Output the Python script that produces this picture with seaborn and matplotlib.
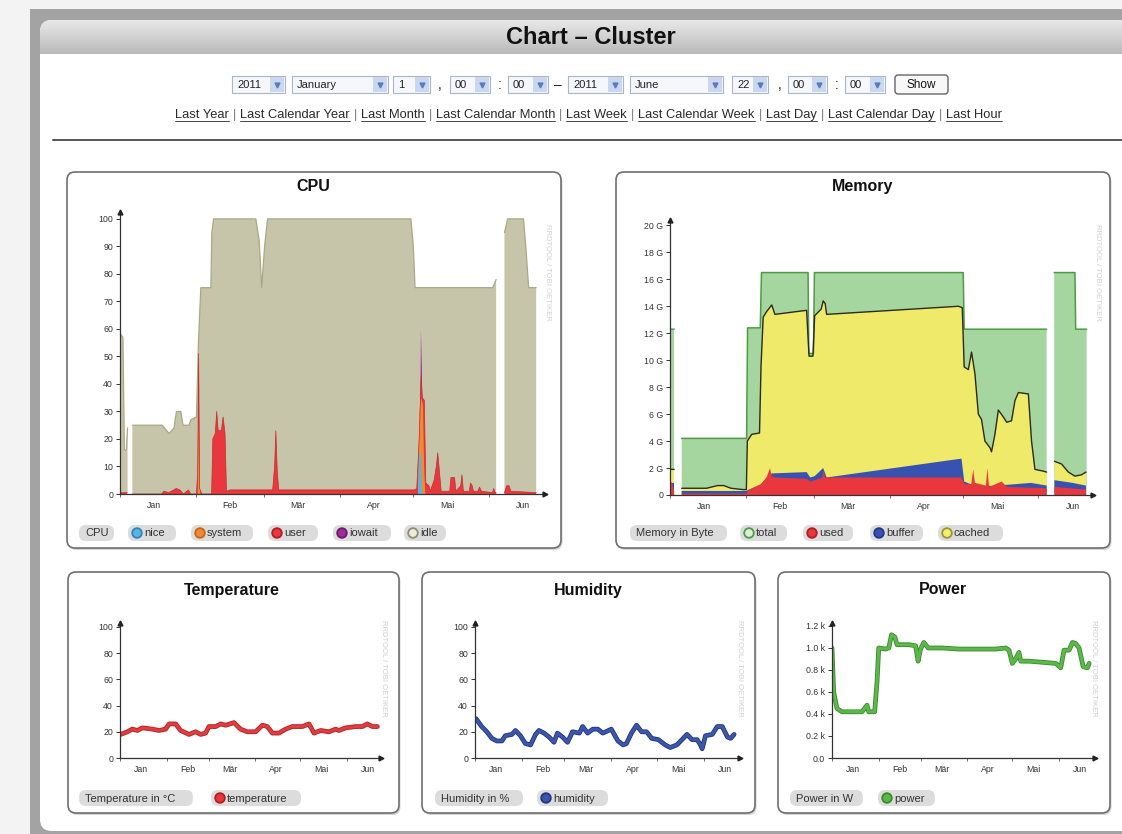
import numpy as np
import pandas as pd
import matplotlib
matplotlib.use("Agg")
import matplotlib.pyplot as plt
import matplotlib.patheffects as pe
import seaborn as sns
from matplotlib.patches import FancyBboxPatch, Rectangle, Circle
from matplotlib.colors import LinearSegmentedColormap

sns.set_theme(style="white")
plt.rcParams["font.family"] = ["Liberation Sans", "DejaVu Sans"]

nan = np.nan

# x axis: day of year 2011 (0 = 1 Jan)
month_labels = ["Jan", "Feb", "Mär", "Apr", "Mai", "Jun"]
month_mid_days = [14, 45, 73, 104, 134, 165]
month_start_days = [0, 31, 59, 90, 120, 151]

# ---- CPU (percent, visible top of each stacked layer) ----
cpu_total_days = [0.3, 1.2, 1.8, 2.6, 3.1, 3.5, 5.05, 17.3, 20.1, 22.1, 23.1, 24.9, 25.8, 28.3, 29.0, 31.3,
                  32.1, 33.1, 37.2, 37.6, 38.3, 55.6, 57.0, 58.0, 59.2, 60.4, 119.1, 120.1, 120.8, 152.6, 154.0,
                  154.5, 157.4, 158.7, 165.2, 166.3, 167.3, 170.4]
cpu_total = [58, 57, 16, 16, 24, nan, 25, 25, 22, 24, 30, 30, 25, 25, 27, 28,
             55, 75, 75, 95, 100, 100, 92, 75, 90, 100, 100, 90, 75, 75, 78,
             nan, 95, 100, 100, 88, 75, 75]

cpu_user_days = [0.3, 3.0, 3.5, 5.05, 17, 18, 20, 23, 24.5, 26, 28, 29, 31.3, 31.8, 32.2, 32.6, 33.5,
                 37.5, 38.0, 39.0, 39.6, 40.2, 41.5, 42.2, 43.0, 43.6, 45, 62.5, 63.3, 63.8, 64.4, 65,
                 120.5, 121.5, 122.5, 123.3, 123.8, 124.6, 125.2, 126.5, 127, 128.6, 129.5, 130.1, 130.8,
                 131.5, 135, 135.5, 137, 137.5, 139.5, 140, 140.6, 143, 143.5, 144.2, 144.7, 146.5, 147.2,
                 148, 152.5, 153, 153.6, 154, 154.5, 157.4, 158.3, 159.3, 160, 170.4]
cpu_user = [0.5, 0.5, nan, 0, 0, 1, 0.5, 2, 1.5, 0, 1.5, 0, 0, 8, 51, 2, 0,
            0, 20, 22, 30, 23, 23, 28, 22, 1, 1.5, 1.5, 10, 23, 8, 1.5,
            1.5, 2, 20, 43, 35, 34, 4, 3, 1, 5, 10, 15, 8,
            1, 1, 6, 6, 1, 3, 7, 1, 1, 4, 3, 1, 1, 2.5,
            1, 0.5, 2, 0.5, 0.5, nan, 0.5, 3, 3, 1, 0.5]

cpu_system_days = [31.6, 32.0, 32.3, 32.6, 121.8, 122.3, 123.0, 123.8, 124.3, 124.8]
cpu_system = [0, 25, 20, 0, 0, 30, 35, 33, 10, 0]

cpu_nice_days = [121.8, 122.3, 123.0, 123.5]
cpu_nice = [0, 15, 15, 0]

cpu_iowait_days = [122.5, 123.0, 123.4, 123.6]
cpu_iowait = [0, 60, 45, 0]

# ---- Memory (GB, visible top of each stacked layer) ----
mem_total_days = [0.0, 1.7, 2.2, 4.8, 31.4, 31.8, 37.0, 37.5, 56.6, 56.9, 58.8, 59.2, 120.2, 120.6,
                  154.4, 155.0, 157.5, 166.0, 166.3, 170.8]
mem_total = [12.3, 12.3, nan, 4.2, 4.2, 12.4, 12.4, 16.5, 16.5, 10.5, 10.5, 16.5, 16.5, 12.3,
             12.3, nan, 16.5, 16.5, 12.3, 12.3]

mem_cached_days = [0.0, 1.7, 2.2, 4.8, 15, 19.5, 22, 25, 30, 31.3, 31.7, 33.5, 36.7, 37.3, 38.2, 39.6,
                   41.7, 43.0, 56.0, 57.0, 58.6, 59.3, 62.0, 62.8, 63.6, 64.2, 118.2, 119.8, 120.6, 122.3,
                   123.6, 125.0, 126.4, 127.7, 129.1, 131.2, 131.8, 133.2, 134.6, 136.6, 138.0, 140.0,
                   141.4, 142.8, 146.9, 148.2, 149.6, 152.3, 154.4, 155.0, 157.6, 160.5, 163.3, 166.0,
                   168.7, 170.5]
mem_cached = [1.9, 1.9, nan, 0.5, 0.5, 0.7, 0.7, 0.5, 0.4, 0.4, 4.0, 4.5, 4.6, 9.5, 13.2, 13.6,
              14.1, 13.4, 13.7, 10.3, 10.3, 13.3, 13.8, 14.4, 14.2, 13.4, 14.0, 13.9, 9.5, 9.3,
              10.6, 9.0, 6.0, 5.6, 4.0, 3.5, 3.2, 4.5, 6.3, 5.8, 5.4, 5.5,
              7.0, 7.6, 7.5, 4.0, 1.9, 1.8, 1.7, nan, 2.5, 2.3, 1.7, 1.4,
              1.5, 1.7]

mem_buffer_days = [0.0, 1.7, 2.2, 4.8, 31.3, 31.7, 37.3, 39.6, 41.7, 56.0, 57.5, 59.3, 62.8, 64.2,
                   119.5, 120.6, 126, 141.4, 148, 154.4, 155.0, 157.6, 165, 170.5]
mem_buffer = [0.9, 0.9, nan, 0.3, 0.3, 0.35, 0.8, 1.3, 1.6, 1.7, 1.3, 1.4, 2.0, 1.3,
              2.7, 1.0, 0.6, 0.8, 0.9, 0.7, nan, 1.1, 0.9, 0.7]

mem_used_days = [0.0, 0.6, 1.7, 2.2, 4.8, 31.3, 31.8, 37.3, 39.6, 41.0, 41.7, 43.0, 56.0, 57.5, 59.3,
                 62.5, 62.8, 63.6, 119.5, 120.8, 123.5, 124.3, 125.0, 129.5, 130.1, 130.8, 136, 138,
                 154.4, 155.0, 157.6, 170.5]
mem_used = [0.7, 1.0, 0.3, nan, 0.1, 0.1, 0.3, 0.8, 1.3, 2.0, 1.4, 1.3, 1.2, 1.0, 1.1,
            1.3, 1.8, 1.3, 1.3, 0.8, 0.8, 1.9, 0.9, 0.7, 2.0, 0.6, 1.0, 0.6,
            0.5, nan, 0.6, 0.4]

# ---- Temperature (°C) ----
temp_days = [0.4, 4.9, 8.2, 11.6, 14.9, 21.6, 26, 30.4, 32.7, 37.1, 40.4, 46, 50.4, 53.8, 57.1, 59.3,
             63.8, 67.1, 70.4, 76, 80.4, 84.9, 90.4, 94.9, 98.2, 101.6, 106, 110.4, 114.9, 121.6, 126,
             129.3, 133.8, 139.3, 143.8, 146, 150.4, 157.1, 161.6, 164.9, 168.2, 171.6]
temp_values = [18, 20, 22, 21, 23, 22, 21, 22, 26, 26, 21, 18, 20, 18, 19, 24,
               24, 26, 25, 27, 22, 20, 20, 25, 24, 19, 19, 22, 24, 24, 26,
               19, 21, 20, 22, 21, 23, 24, 24, 26, 24, 24]

# ---- Humidity (%) ----
hum_days = [0.7, 4.4, 7.8, 11.1, 14.4, 17.8, 20, 24.4, 26.7, 30, 33.3, 36.7, 40, 42.2, 45.6, 48.9,
            52.2, 54.4, 57.8, 61.1, 64.4, 68.9, 71.1, 74.4, 77.8, 81.1, 84.4, 90, 94.4, 97.8, 100,
            103.3, 106.7, 110, 113.3, 116.7, 121.1, 125.6, 128.9, 133.3, 136.7, 140, 143.3, 146.7,
            148.9, 150, 152.2, 156.7, 160, 163.3, 166.7, 168.9, 171.1]
hum_values = [30, 24, 20, 15, 13, 13, 17, 18, 21, 17, 11, 10, 18, 21, 19, 16,
              12, 19, 16, 12, 20, 19, 24, 19, 22, 22, 19, 22, 13, 10, 11,
              19, 25, 20, 20, 15, 14, 10, 8, 10, 14, 18, 14, 14,
              10, 7, 17, 18, 24, 24, 16, 15, 18]

# ---- Power (W) ----
power_days = [0, 1.1, 3.3, 6.7, 20, 22.2, 23.3, 24.4, 28.4, 30, 31.1, 35.6, 37.8, 39.6, 41.8, 43.3,
              51.1, 55.6, 57.3, 58.9, 61.1, 64, 73.3, 84.4, 95.6, 108.9, 115.6, 117.8, 120, 122.2,
              124.4, 125.6, 131.1, 140, 148.9, 152.2, 154.4, 157.8, 160, 162.2, 164.4, 167.1, 170, 171.1]
power_values = [1000, 600, 450, 420, 420, 460, 480, 420, 420, 700, 1000, 990, 1000, 1120, 1100, 1030,
                1030, 1020, 880, 990, 1050, 1000, 1000, 990, 990, 990, 1000, 980, 860, 900,
                960, 880, 880, 870, 860, 820, 980, 980, 1050, 1040, 1000, 830, 820, 860]

links = ["Last Year", "Last Calendar Year", "Last Month", "Last Calendar Month", "Last Week",
         "Last Calendar Week", "Last Day", "Last Calendar Day", "Last Hour"]

W, H = 1122, 834
fig = plt.figure(figsize=(W / 100, H / 100), dpi=100, facecolor="#f3f3f3")
bg = fig.add_axes([0, 0, 1, 1], zorder=0)
bg.set_axis_off()


def rbox(x0, y0, x1, y1, r, fc, ec="none", lw=0.0, z=1):
    p = FancyBboxPatch((x0, y0), x1 - x0, y1 - y0, boxstyle=f"round,pad=0,rounding_size={r}",
                       fc=fc, ec=ec, lw=lw, zorder=z)
    bg.add_patch(p)
    return p


# page frame and header
bg.add_patch(Rectangle((30, 9), W - 30, H - 9, fc="#a3a3a3", ec="none", zorder=0))
page = rbox(40, 20, W + 20, H - 3, 12, "white", z=1)
grad = LinearSegmentedColormap.from_list("hdr", ["#e8e8e8", "#d2d2d2", "#b9b9b9"])
im = bg.imshow(np.linspace(0, 1, 60).reshape(-1, 1), extent=[40, W, 54, 20], cmap=grad,
               aspect="auto", zorder=2)
im.set_clip_path(page)
bg.set_xlim(0, W)
bg.set_ylim(H, 0)
bg.text(591, 37, "Chart – Cluster", fontsize=17, fontweight="bold", ha="center", va="center",
        color="#111", zorder=3)

# date selectors
selects = [(232, 285, "2011"), (292, 388, "January"), (393, 430, "1"), (450, 490, "00"), (508, 548, "00"),
           (568, 623, "2011"), (630, 723, "June"), (732, 768, "22"), (788, 827, "00"), (845, 885, "00")]
for x0, x1, lab in selects:
    bg.add_patch(Rectangle((x0, 76), x1 - x0, 17, fc="#f5f7fb", ec="#aab5c8", lw=0.8, zorder=3))
    bg.add_patch(Rectangle((x1 - 15, 77), 14, 15, fc="#c9d7ef", ec="none", zorder=3))
    bg.text(x0 + 5, 85, lab, fontsize=8, va="center", ha="left", color="#222", zorder=4)
    bg.plot(x1 - 8, 85, marker="v", ms=3.5, color="#5b7cc0", zorder=4)
for x, s in [(440, ","), (500, ":"), (558, "–"), (780, ","), (837, ":")]:
    bg.text(x, 85, s, fontsize=10, ha="center", va="center", color="#222", zorder=4)
rbox(895, 75, 948, 94, 3, "#f8f8f8", ec="#666", lw=1.0, z=3)
bg.text(921.5, 85, "Show", fontsize=8.5, ha="center", va="center", color="#111", zorder=4)

# quick links (underlined)
renderer = fig.canvas.get_renderer()


def text_width(s, fs):
    t = bg.text(0, 0, s, fontsize=fs)
    w = t.get_window_extent(renderer).width
    t.remove()
    return w


gap = 4
fs = 8
total_w = sum(text_width(s, fs) for s in links) + (len(links) - 1) * (2 * gap + text_width("|", fs))
fs = fs * 845 / total_w
x = 175
for i, s in enumerate(links):
    w = text_width(s, fs)
    bg.text(x, 115, s, fontsize=fs, ha="left", va="center", color="#2a2a2a", zorder=4)
    bg.plot([x, x + w], [120.5, 120.5], color="#2a2a2a", lw=0.6, zorder=4)
    x += w
    if i < len(links) - 1:
        bg.text(x + gap, 115, "|", fontsize=fs, ha="left", va="center", color="#777", zorder=4)
        x += 2 * gap + text_width("|", fs)

bg.plot([53, W], [140, 140], color="#555", lw=1.4, zorder=3)

# panels
panels = [(67, 172, 561, 548, "CPU", 313, 186), (616, 172, 1110, 548, "Memory", 863, 186),
          (68, 572, 399, 813, "Temperature", 232, 590), (422, 572, 755, 813, "Humidity", 588, 590),
          (778, 572, 1110, 813, "Power", 943, 590)]
for x0, y0, x1, y1, title, tx, ty in panels:
    rbox(x0 + 1.5, y0 + 2, x1 + 1.5, y1 + 2, 8, "#d4d4d4", z=2)
    rbox(x0, y0, x1, y1, 8, "white", ec="#6f6f6f", lw=1.2, z=3)
    bg.text(tx, ty, title, fontsize=11.5, fontweight="bold", ha="center", va="center", color="#111", zorder=4)


def pill(x0, x1, yc, label, color=None, edge=None):
    rbox(x0, yc - 8, x1, yc + 8, 7, "#dcdcdc", z=4)
    tx = x0 + 6
    if color is not None:
        bg.add_patch(Circle((x0 + 9, yc), 4.8, fc=color, ec=edge, lw=1.3, zorder=5))
        tx = x0 + 16
    bg.text(tx, yc + 0.5, label, fontsize=8, ha="left", va="center", color="#333", zorder=6)


for args in [(79, 114, 533, "CPU"), (128, 176, 533, "nice", "#5ab4e2", "#2f86b8"),
             (191, 253, 533, "system", "#f08a33", "#c8651a"), (268, 318, 533, "user", "#e8383d", "#b31e24"),
             (333, 391, 533, "iowait", "#9b2f97", "#6d1a6a"), (404, 446, 533, "idle", "#ecebdc", "#8f8e6e"),
             (630, 727, 533, "Memory in Byte"), (740, 787, 533, "total", "#d9eed5", "#4f9a45"),
             (803, 853, 533, "used", "#e8383d", "#b31e24"), (870, 923, 533, "buffer", "#3752b0", "#233a85"),
             (938, 1003, 533, "cached", "#f3ed70", "#9a9530"),
             (79, 193, 798, "Temperature in °C"), (211, 301, 798, "temperature", "#e8383d", "#b31e24"),
             (435, 523, 798, "Humidity in %"), (537, 608, 798, "humidity", "#3c55ad", "#24367a"),
             (790, 863, 798, "Power in W"), (878, 935, 798, "power", "#5cb84a", "#3a8a2c")]:
    pill(*args)


def chart_axes(x0, x1, y_top, y_bot, xmax, ymax, yticks, ylabels):
    ax = fig.add_axes([x0 / W, 1 - y_bot / H, (x1 - x0) / W, (y_bot - y_top) / H], zorder=5)
    ax.patch.set_alpha(0)
    ax.set_xlim(0, xmax)
    ax.set_ylim(0, ymax)
    for s in ["top", "right"]:
        ax.spines[s].set_visible(False)
    for s in ["left", "bottom"]:
        ax.spines[s].set_color("#333")
        ax.spines[s].set_linewidth(0.9)
    ax.plot(1, 0, ">", color="#222", ms=3.5, transform=ax.transAxes, clip_on=False, zorder=10)
    ax.plot(0, 1, "^", color="#222", ms=3.5, transform=ax.transAxes, clip_on=False, zorder=10)
    ax.set_xticks(month_mid_days, month_labels)
    ax.set_xticks(month_start_days, minor=True)
    ax.set_yticks(yticks, ylabels)
    ax.tick_params(axis="x", which="major", bottom=True, length=0, labelsize=6.3, colors="#333", pad=5)
    ax.tick_params(axis="x", which="minor", bottom=True, length=2, width=0.6, color="#555")
    ax.tick_params(axis="y", left=True, length=3, width=0.7, labelsize=6.3, colors="#333", pad=2)
    return ax


def watermark(x, y):
    bg.text(x, y, "RRDTOOL / TOBI OETIKER", rotation=270, fontsize=5.5, color="#cfcfcf",
            ha="center", va="center", zorder=4)


# CPU chart
ax = chart_axes(120, 545, 212, 494, 174, 102.5, list(range(0, 101, 10)), [str(v) for v in range(0, 101, 10)])
ax.fill_between(cpu_total_days, cpu_total, color="#c6c5a9", lw=0)
ax.plot(cpu_total_days, cpu_total, color="#a9a886", lw=0.9)
ax.fill_between(cpu_iowait_days, cpu_iowait, color="#9b2f97", lw=0)
ax.fill_between(cpu_user_days, cpu_user, color="#e8383d", lw=0)
ax.plot(cpu_user_days, cpu_user, color="#c92a30", lw=0.5)
ax.fill_between(cpu_system_days, cpu_system, color="#f08a33", lw=0)
ax.fill_between(cpu_nice_days, cpu_nice, color="#5ab4e2", lw=0)
watermark(548, 272)

# Memory chart
mem_ticks = list(range(0, 21, 2))
ax = chart_axes(670, 1093, 220, 495, 173.4, 20.4, mem_ticks, ["0"] + [f"{v} G" for v in mem_ticks[1:]])
ax.fill_between(mem_total_days, mem_total, color="#a6d69f", lw=0)
ax.plot(mem_total_days, mem_total, color="#4f9a45", lw=1.1)
ax.fill_between(mem_cached_days, mem_cached, color="#f0ea6b", lw=0)
ax.fill_between(mem_buffer_days, mem_buffer, color="#3752b0", lw=0)
ax.fill_between(mem_used_days, mem_used, color="#e8383d", lw=0)
ax.plot(mem_cached_days, mem_cached, color="#2a2a1a", lw=1.0)
watermark(1098, 272)

# Temperature / Humidity / Power
small = [(120, 381, 174, temp_days, temp_values, "temperature", "#e23b40", "#a82525", 103,
          list(range(0, 101, 20)), [str(v) for v in range(0, 101, 20)], 384),
         (475, 740, 175, hum_days, hum_values, "humidity", "#3c55ad", "#22347a", 103,
          list(range(0, 101, 20)), [str(v) for v in range(0, 101, 20)], 740),
         (832, 1095, 175, power_days, power_values, "power", "#5cb84a", "#3a8a2c", 1227,
          list(range(0, 1201, 200)), ["0.0"] + [f"{v / 1000:.1f} k" for v in range(200, 1201, 200)], 1094)]
for x0, x1, xmax, days, vals, name, col, edge, ymax, yt, yl, wx in small:
    ax = chart_axes(x0, x1, 623, 758, xmax, ymax, yt, yl)
    df = pd.DataFrame({"day": days, name: vals})
    sns.lineplot(data=df, x="day", y=name, ax=ax, color=col, lw=2.2, sort=False,
                 path_effects=[pe.Stroke(linewidth=3.4, foreground=edge), pe.Normal()])
    ax.set_xlabel("")
    ax.set_ylabel("")
    watermark(wx, 668)

fig.savefig("out.png", dpi=100, facecolor=fig.get_facecolor())
